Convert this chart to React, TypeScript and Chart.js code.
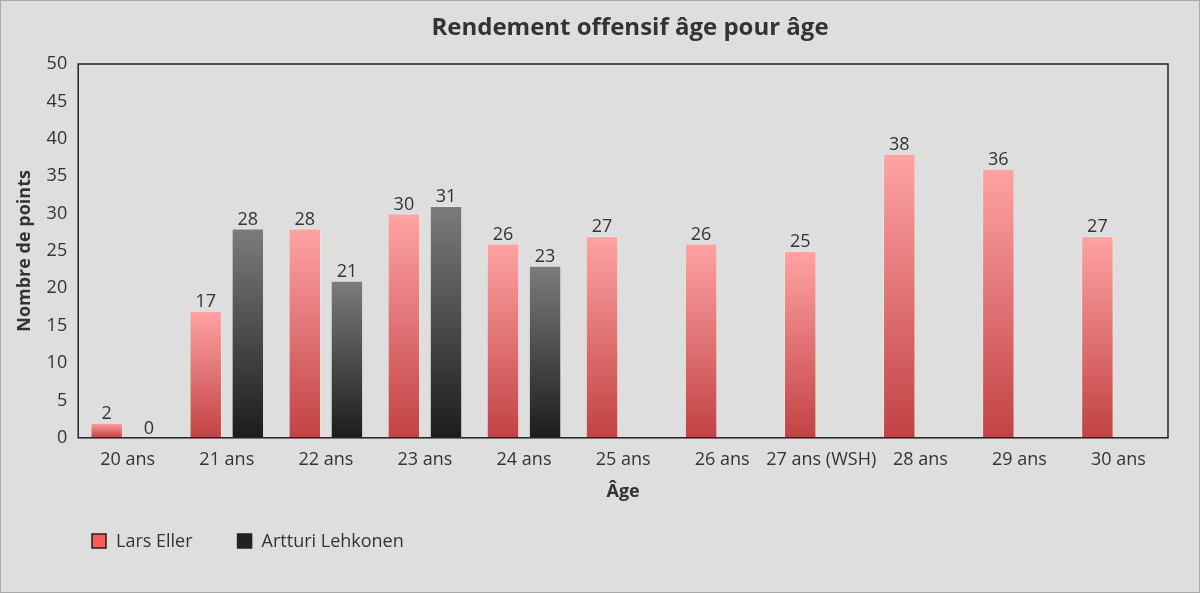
import React, { useEffect, useRef } from "react";
import { Chart, registerables } from "chart.js";

Chart.register(...registerables);

const chartTitle = "Rendement offensif âge pour âge";
const categories = [
  "20 ans", "21 ans", "22 ans", "23 ans", "24 ans", "25 ans",
  "26 ans", "27 ans (WSH)", "28 ans", "29 ans", "30 ans",
];
const larsEller = [2, 17, 28, 30, 26, 27, 26, 25, 38, 36, 27];
const artturiLehkonen = [0, 28, 21, 31, 23, null, null, null, null, null, null];
const seriesNames = ["Lars Eller", "Artturi Lehkonen"];
const yTicks = { min: 0, max: 50, step: 5 };

const FONT = "'Open Sans', 'DejaVu Sans', sans-serif";
const TEXT = "#333333";
const FS = 18;

const gradients = [
  { top: "#ffa3a3", bottom: "#c24244", legend: "#ff5a5a" },
  { top: "#7c7c7c", bottom: "#1c1c1c", legend: "#222222" },
];

function barFill(idx: number) {
  return (ctx: any) => {
    const g = gradients[idx];
    if (ctx.type !== "data") return g.bottom;
    const chart = ctx.chart;
    const v = ctx.raw;
    if (!chart.chartArea || v == null) return g.bottom;
    const y = chart.scales.y;
    const top = y.getPixelForValue(v);
    const bottom = y.getPixelForValue(0);
    if (Math.abs(bottom - top) < 1) return g.bottom;
    const grad = chart.ctx.createLinearGradient(0, top, 0, bottom);
    grad.addColorStop(0, g.top);
    grad.addColorStop(1, g.bottom);
    return grad;
  };
}

const frameAndLabels = {
  id: "frameAndLabels",
  afterDatasetsDraw(chart: any) {
    const { ctx } = chart;
    ctx.save();
    ctx.font = `${FS}px ${FONT}`;
    ctx.fillStyle = TEXT;
    ctx.textAlign = "center";
    ctx.textBaseline = "bottom";
    chart.data.datasets.forEach((ds: any, i: number) => {
      const meta = chart.getDatasetMeta(i);
      meta.data.forEach((el: any, j: number) => {
        const v = ds.data[j];
        if (v == null) return;
        ctx.fillText(String(v), el.x, el.y);
      });
    });
    ctx.restore();
  },
  afterDraw(chart: any) {
    const { ctx, chartArea } = chart;
    ctx.save();
    ctx.strokeStyle = "#222222";
    ctx.lineWidth = 1.5;
    ctx.strokeRect(chartArea.left, chartArea.top, chartArea.right - chartArea.left, chartArea.bottom - chartArea.top);
    // title
    ctx.font = `bold 24px ${FONT}`;
    ctx.fillStyle = TEXT;
    ctx.textAlign = "center";
    ctx.textBaseline = "middle";
    ctx.fillText(chartTitle, 629, 27);
    // custom legend
    const y = 540;
    let x = 91;
    ctx.font = `${FS}px ${FONT}`;
    ctx.textBaseline = "middle";
    ctx.textAlign = "left";
    seriesNames.forEach((name, i) => {
      ctx.fillStyle = gradients[i].legend;
      ctx.fillRect(x, y - 7, 14, 14);
      ctx.lineWidth = 1.5;
      ctx.strokeStyle = "#222222";
      ctx.strokeRect(x, y - 7, 14, 14);
      ctx.fillStyle = TEXT;
      ctx.fillText(name, x + 24, y + 1);
      x += 24 + ctx.measureText(name).width + 45;
    });
    ctx.restore();
  },
};

export default function App() {
  const ref = useRef<HTMLCanvasElement | null>(null);
  useEffect(() => {
    document.body.style.margin = "0";
    const canvas = ref.current;
    if (!canvas) return;
    const chart = new Chart(canvas, {
      type: "bar",
      data: {
        labels: categories,
        datasets: [
          {
            label: seriesNames[0],
            data: larsEller,
            backgroundColor: barFill(0),
            borderColor: "rgba(255,255,255,0.25)",
            borderWidth: 1,
            categoryPercentage: 0.85,
            barPercentage: 0.77,
          },
          {
            label: seriesNames[1],
            data: artturiLehkonen,
            backgroundColor: barFill(1),
            borderColor: "rgba(255,255,255,0.25)",
            borderWidth: 1,
            categoryPercentage: 0.85,
            barPercentage: 0.77,
          },
        ],
      },
      options: {
        animation: false,
        responsive: false,
        maintainAspectRatio: false,
        layout: { padding: { left: 13, right: 31, top: 63, bottom: 89 } },
        plugins: {
          legend: { display: false },
          tooltip: { enabled: false },
          title: { display: false },
        },
        scales: {
          x: {
            grid: { display: false, drawTicks: false },
            border: { display: false },
            ticks: { color: TEXT, font: { family: FONT, size: FS }, padding: 11, maxRotation: 0, autoSkip: false },
            title: {
              display: true,
              text: "Âge",
              color: TEXT,
              font: { family: FONT, size: FS, weight: "bold" },
              padding: { top: 0, bottom: 0 },
            },
          },
          y: {
            min: yTicks.min,
            max: yTicks.max,
            grid: { display: false, drawTicks: false },
            border: { display: false },
            ticks: { stepSize: yTicks.step, color: TEXT, font: { family: FONT, size: FS }, padding: 11 },
            title: {
              display: true,
              text: "Nombre de points",
              color: TEXT,
              font: { family: FONT, size: FS, weight: "bold" },
              padding: { top: 0, bottom: 0 },
            },
          },
        },
      },
      plugins: [frameAndLabels],
    });
    return () => chart.destroy();
  }, []);
  return (
    <div
      style={{
        position: "absolute",
        left: 0,
        top: 0,
        width: 1200,
        height: 593,
        boxSizing: "border-box",
        border: "1px solid #a9a9a9",
        background: "#dedede",
      }}
    >
      <canvas ref={ref} width={1198} height={591} style={{ display: "block" }} />
    </div>
  );
}
